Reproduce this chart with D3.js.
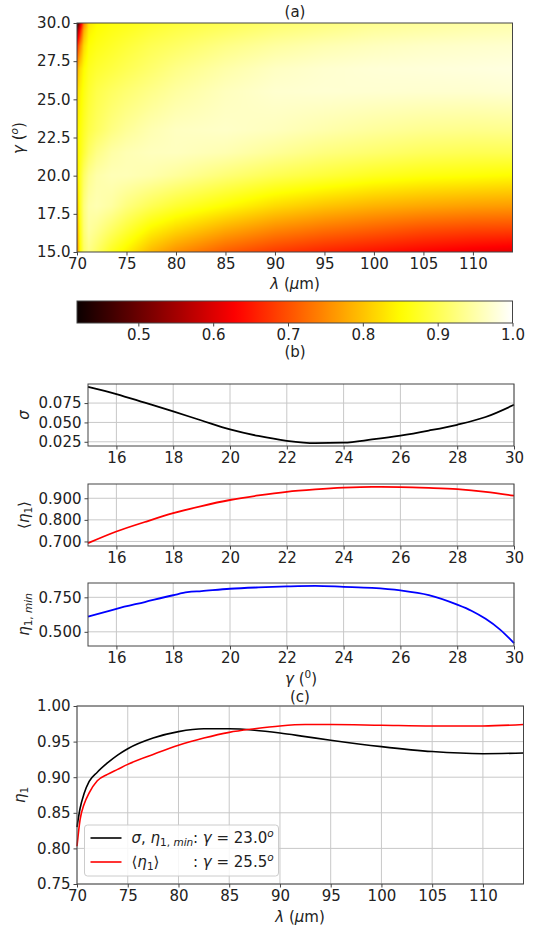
<!DOCTYPE html>
<html>
<head>
<meta charset="utf-8">
<script src="https://cdn.jsdelivr.net/npm/d3@7"></script>
<style>
  body { margin: 0; background: #fff; }
  svg { display: block; font-family: "DejaVu Sans", sans-serif; }
</style>
</head>
<body>
<svg id="chart" width="536" height="927"></svg>
<script>
// ---------------------------------------------------------------------------
// Data

// (a) eta_1 map: columns are lambda (um), rows are gamma (deg)
const lambdaCols = [70, 70.3, 70.7, 71.2, 72, 73.5, 75, 77.5, 80, 85, 90, 95, 100, 105, 110, 114];
const gammaRows = [15, 16.5, 18, 20, 21.5, 23, 25.5, 27, 28.5, 29.5, 30];
const etaMap = [
  [0.74, 0.85, 0.91, 0.93, 0.91, 0.87, 0.84, 0.79, 0.755, 0.71, 0.68, 0.66, 0.645, 0.63, 0.618, 0.61],
  [0.76, 0.86, 0.92, 0.945, 0.935, 0.91, 0.885, 0.845, 0.82, 0.78, 0.75, 0.73, 0.715, 0.70, 0.692, 0.69],
  [0.78, 0.87, 0.925, 0.95, 0.955, 0.945, 0.925, 0.90, 0.88, 0.85, 0.82, 0.80, 0.785, 0.775, 0.768, 0.765],
  [0.812, 0.87, 0.91, 0.935, 0.95, 0.958, 0.958, 0.952, 0.942, 0.92, 0.90, 0.885, 0.87, 0.86, 0.855, 0.85],
  [0.825, 0.86, 0.885, 0.91, 0.93, 0.948, 0.956, 0.962, 0.963, 0.955, 0.94, 0.925, 0.915, 0.905, 0.90, 0.90],
  [0.833, 0.855, 0.875, 0.893, 0.907, 0.927, 0.94, 0.955, 0.964, 0.968, 0.962, 0.952, 0.943, 0.936, 0.933, 0.934],
  [0.81, 0.84, 0.862, 0.88, 0.895, 0.908, 0.918, 0.932, 0.945, 0.962, 0.972, 0.974, 0.973, 0.972, 0.972, 0.974],
  [0.766, 0.82, 0.85, 0.87, 0.88, 0.89, 0.90, 0.915, 0.93, 0.95, 0.965, 0.972, 0.976, 0.978, 0.98, 0.982],
  [0.653, 0.74, 0.82, 0.855, 0.865, 0.875, 0.885, 0.90, 0.91, 0.93, 0.945, 0.955, 0.962, 0.967, 0.97, 0.972],
  [0.518, 0.64, 0.78, 0.84, 0.855, 0.865, 0.872, 0.885, 0.895, 0.91, 0.925, 0.935, 0.945, 0.95, 0.955, 0.958],
  [0.418, 0.56, 0.74, 0.83, 0.85, 0.86, 0.865, 0.875, 0.885, 0.90, 0.915, 0.925, 0.935, 0.942, 0.948, 0.952]
];
const colorbarTicks = [0.5, 0.6, 0.7, 0.8, 0.9, 1.0];

// (b) statistics against gamma
const gammaB = [15, 16, 17, 18, 19, 20, 21, 22, 23, 24, 25, 26, 27, 28, 29, 30];
const sigmaVals = [0.096, 0.0867, 0.0755, 0.0642, 0.0525, 0.041, 0.0325, 0.0263, 0.0232, 0.0238, 0.028, 0.033, 0.0395, 0.047, 0.057, 0.0728];
const etaMean = [0.692, 0.746, 0.79, 0.831, 0.864, 0.892, 0.913, 0.930, 0.941, 0.949, 0.953, 0.952, 0.948, 0.942, 0.930, 0.912];
const gammaMin = [15, 16, 17, 18, 18.5, 19, 20, 21, 22, 23, 24, 25, 26, 27, 28, 28.5, 29, 29.5, 30];
const etaMin = [0.61, 0.667, 0.716, 0.765, 0.787, 0.795, 0.812, 0.822, 0.829, 0.833, 0.826, 0.818, 0.80, 0.766, 0.697, 0.653, 0.594, 0.518, 0.418];

// (c) eta_1 against lambda at the two optimal angles
const lambdaC = [70, 70.3, 70.7, 71.2, 72, 73, 74, 75, 77.5, 80, 82.5, 85, 87.5, 90, 92.5, 95, 100, 105, 110, 114];
const etaG23 = [0.83, 0.856, 0.877, 0.894, 0.907, 0.92, 0.931, 0.94, 0.955, 0.964, 0.968, 0.968, 0.966, 0.962, 0.957, 0.952, 0.943, 0.936, 0.933, 0.934];
const etaG255 = [0.803, 0.84, 0.862, 0.878, 0.895, 0.904, 0.911, 0.918, 0.932, 0.945, 0.955, 0.963, 0.968, 0.972, 0.974, 0.974, 0.973, 0.972, 0.972, 0.974];

// ---------------------------------------------------------------------------
const svg = d3.select('#chart');
const FONT = 15;
const gridColor = '#c8c8c8';
const frameColor = '#444';

// matplotlib 'hot'
const hot = d3.scaleLinear()
  .domain([0, 0.365079, 0.746032, 1])
  .range(['#0b0000', '#ff0000', '#ffff00', '#ffffff'])
  .clamp(true);
const vmin = d3.min(etaMap.flat());
const vmax = 1.0;
const colorOf = v => hot((v - vmin) / (vmax - vmin));

// rich text with italic / sub / sup pieces
function rich(sel, parts, size) {
  let shift = 0;
  parts.forEach(([s, f = '']) => {
    const flags = f.split(' ');
    let target = 0;
    if (flags.includes('sub')) target = 0.22 * size;
    if (flags.includes('sup')) target = -0.42 * size;
    const ts = sel.append('tspan').text(s).attr('dy', target - shift);
    shift = target;
    if (flags.includes('it')) ts.attr('font-style', 'italic');
    if (flags.includes('sub') || flags.includes('sup')) ts.attr('font-size', size * 0.7);
  });
}

function styleAxis(g) {
  g.select('.domain').remove();
  g.selectAll('.tick line').attr('stroke', frameColor);
  g.selectAll('.tick text').attr('font-size', FONT).attr('fill', '#222')
    .attr('font-family', '"DejaVu Sans", sans-serif');
}

function frame(x0, x1, y0, y1) {
  svg.append('rect').attr('x', x0).attr('y', y0).attr('width', x1 - x0).attr('height', y1 - y0)
    .attr('fill', 'none').attr('stroke', frameColor).attr('stroke-width', 1);
}

function ylabel(x, y, parts) {
  const t = svg.append('text').attr('transform', `translate(${x},${y}) rotate(-90)`)
    .attr('text-anchor', 'middle').attr('font-size', FONT).attr('fill', '#222');
  rich(t, parts, FONT);
}

function label(x, y, parts) {
  const t = svg.append('text').attr('x', x).attr('y', y)
    .attr('text-anchor', 'middle').attr('font-size', FONT).attr('fill', '#222');
  rich(t, parts, FONT);
}

// ---------------------------------------------------------------------------
// (a) heat map
const ax = d3.scaleLinear().domain([70, 114]).range([77, 512.5]);
const ay = d3.scaleLinear().domain([15, 30]).range([252, 23]);

function lookup(arr, v) {
  let i = d3.bisectRight(arr, v) - 1;
  i = Math.max(0, Math.min(arr.length - 2, i));
  const f = Math.max(0, Math.min(1, (v - arr[i]) / (arr[i + 1] - arr[i])));
  return [i, f];
}

const W = Math.round(ax.range()[1] - ax.range()[0]);
const H = Math.round(ay.range()[0] - ay.range()[1]);
const canvas = document.createElement('canvas');
canvas.width = W; canvas.height = H;
const ctx = canvas.getContext('2d');
const img = ctx.createImageData(W, H);
for (let py = 0; py < H; py++) {
  const g = ay.invert(ay.range()[1] + py + 0.5);
  const [gi, gf] = lookup(gammaRows, g);
  for (let px = 0; px < W; px++) {
    const l = ax.invert(ax.range()[0] + px + 0.5);
    const [li, lf] = lookup(lambdaCols, l);
    const a = etaMap[gi][li] * (1 - lf) + etaMap[gi][li + 1] * lf;
    const b = etaMap[gi + 1][li] * (1 - lf) + etaMap[gi + 1][li + 1] * lf;
    const c = d3.rgb(colorOf(a * (1 - gf) + b * gf));
    const k = (py * W + px) * 4;
    img.data[k] = c.r; img.data[k + 1] = c.g; img.data[k + 2] = c.b; img.data[k + 3] = 255;
  }
}
ctx.putImageData(img, 0, 0);
svg.append('image')
  .attr('x', ax.range()[0]).attr('y', ay.range()[1])
  .attr('width', W).attr('height', H)
  .attr('preserveAspectRatio', 'none')
  .attr('href', canvas.toDataURL());
frame(77, 512.5, 23, 252);

svg.append('g').attr('transform', 'translate(77,0)')
  .call(d3.axisLeft(ay).tickValues([15, 17.5, 20, 22.5, 25, 27.5, 30]).tickFormat(d3.format('.1f')).tickSize(3.5).tickPadding(3))
  .call(styleAxis);
svg.append('g').attr('transform', 'translate(0,252)')
  .call(d3.axisBottom(ax).tickValues(d3.range(70, 114, 5)).tickSize(3.5).tickPadding(3))
  .call(styleAxis);
label(295, 17, [['(a)']]);
ylabel(24, 138, [['\u03b3', 'it'], [' ('], ['o', 'sup it'], [')']]);
label(295, 289, [['\u03bb', 'it'], [' ('], ['\u03bc', 'it'], ['m)']]);

// colorbar
const cx = d3.scaleLinear().domain([vmin, vmax]).range([77, 512.5]);
const grad = svg.append('defs').append('linearGradient').attr('id', 'cbar')
  .attr('x1', '0%').attr('x2', '100%').attr('y1', '0%').attr('y2', '0%');
d3.range(0, 1.0001, 0.02).forEach(t => {
  grad.append('stop').attr('offset', `${t * 100}%`).attr('stop-color', colorOf(vmin + t * (vmax - vmin)));
});
svg.append('rect').attr('x', 77).attr('y', 301).attr('width', 435.5).attr('height', 22)
  .attr('fill', 'url(#cbar)');
frame(77, 512.5, 301, 323);
svg.append('g').attr('transform', 'translate(0,323)')
  .call(d3.axisBottom(cx).tickValues(colorbarTicks).tickFormat(d3.format('.1f')).tickSize(3.5).tickPadding(3))
  .call(styleAxis);
label(295, 357, [['(b)']]);

// ---------------------------------------------------------------------------
// (b) three stacked panels
const bx = d3.scaleLinear().domain([15, 30]).range([88, 514]);
function padded(vals) {
  const [lo, hi] = d3.extent(vals);
  const p = (hi - lo) * 0.05;
  return [lo - p, hi + p];
}

function statPanel(top, bottom, xs, ys, ticks, color, labelParts) {
  const y = d3.scaleLinear().domain(padded(ys)).range([bottom, top]);
  const g = svg.append('g');
  g.selectAll('line.gx').data(d3.range(16, 31, 2)).join('line')
    .attr('x1', d => bx(d)).attr('x2', d => bx(d)).attr('y1', top).attr('y2', bottom)
    .attr('stroke', gridColor).attr('stroke-width', 1);
  g.selectAll('line.gy').data(ticks).join('line')
    .attr('x1', 88).attr('x2', 514).attr('y1', d => y(d)).attr('y2', d => y(d))
    .attr('stroke', gridColor).attr('stroke-width', 1);
  g.append('path').datum(xs.map((d, i) => [d, ys[i]]))
    .attr('fill', 'none').attr('stroke', color).attr('stroke-width', 1.8)
    .attr('d', d3.line().x(d => bx(d[0])).y(d => y(d[1])).curve(d3.curveMonotoneX));
  frame(88, 514, top, bottom);
  svg.append('g').attr('transform', 'translate(88,0)')
    .call(d3.axisLeft(y).tickValues(ticks).tickFormat(d3.format('.3f')).tickSize(3.5).tickPadding(3))
    .call(styleAxis);
  svg.append('g').attr('transform', `translate(0,${bottom})`)
    .call(d3.axisBottom(bx).tickValues(d3.range(16, 31, 2)).tickSize(3.5).tickPadding(3))
    .call(styleAxis);
  ylabel(29, (top + bottom) / 2, labelParts);
}

statPanel(384, 446, gammaB, sigmaVals, [0.025, 0.05, 0.075], '#000000', [['\u03c3', 'it']]);
statPanel(484, 546, gammaB, etaMean, [0.7, 0.8, 0.9], '#ff0000',
  [['\u27e8'], ['\u03b7', 'it'], ['1', 'sub'], ['\u27e9']]);
statPanel(583, 646, gammaMin, etaMin, [0.5, 0.75], '#0000ff',
  [['\u03b7', 'it'], ['1, ', 'sub'], ['min', 'sub it']]);
label(301, 684, [['\u03b3', 'it'], [' ('], ['0', 'sup'], [')']]);

// ---------------------------------------------------------------------------
// (c) eta_1 against lambda
const xc = d3.scaleLinear().domain([70, 114]).range([77, 523.5]);
const yc = d3.scaleLinear().domain([0.75, 1.0]).range([884, 706]);
const cTicksX = d3.range(70, 114, 5);
const cTicksY = d3.range(0.75, 1.0001, 0.05);
const gc = svg.append('g');
gc.selectAll('line.gx').data(cTicksX).join('line')
  .attr('x1', d => xc(d)).attr('x2', d => xc(d)).attr('y1', 706).attr('y2', 884)
  .attr('stroke', gridColor).attr('stroke-width', 1);
gc.selectAll('line.gy').data(cTicksY).join('line')
  .attr('x1', 77).attr('x2', 523.5).attr('y1', d => yc(d)).attr('y2', d => yc(d))
  .attr('stroke', gridColor).attr('stroke-width', 1);
const lineC = d3.line().x(d => xc(d[0])).y(d => yc(d[1])).curve(d3.curveMonotoneX);
gc.append('path').datum(lambdaC.map((d, i) => [d, etaG23[i]]))
  .attr('fill', 'none').attr('stroke', '#000').attr('stroke-width', 1.6).attr('d', lineC);
gc.append('path').datum(lambdaC.map((d, i) => [d, etaG255[i]]))
  .attr('fill', 'none').attr('stroke', '#ff0000').attr('stroke-width', 1.6).attr('d', lineC);
frame(77, 523.5, 706, 884);
svg.append('g').attr('transform', 'translate(77,0)')
  .call(d3.axisLeft(yc).tickValues(cTicksY).tickFormat(d3.format('.2f')).tickSize(3.5).tickPadding(3))
  .call(styleAxis);
svg.append('g').attr('transform', 'translate(0,884)')
  .call(d3.axisBottom(xc).tickValues(cTicksX).tickSize(3.5).tickPadding(3))
  .call(styleAxis);
label(300, 702, [['(c)']]);
ylabel(25, 795, [['\u03b7', 'it'], ['1', 'sub']]);
label(300, 922, [['\u03bb', 'it'], [' ('], ['\u03bc', 'it'], ['m)']]);

// legend
svg.append('rect').attr('x', 84.5).attr('y', 825).attr('width', 194).attr('height', 51)
  .attr('rx', 3).attr('fill', '#fff').attr('fill-opacity', 0.85)
  .attr('stroke', '#cccccc');
const legendRows = [
  { color: '#000', y: 838, name: [['\u03c3', 'it'], [', '], ['\u03b7', 'it'], ['1, ', 'sub'], ['min', 'sub it']], gamma: '23.0' },
  { color: '#ff0000', y: 862, name: [['\u27e8'], ['\u03b7', 'it'], ['1', 'sub'], ['\u27e9']], gamma: '25.5' }
];
legendRows.forEach(r => {
  svg.append('line').attr('x1', 90.5).attr('x2', 121.5).attr('y1', r.y).attr('y2', r.y)
    .attr('stroke', r.color).attr('stroke-width', 1.6);
  const t1 = svg.append('text').attr('x', 131.5).attr('y', r.y + 5)
    .attr('font-size', FONT).attr('fill', '#222');
  rich(t1, r.name, FONT);
  const t2 = svg.append('text').attr('x', 193).attr('y', r.y + 5)
    .attr('font-size', FONT).attr('fill', '#222');
  rich(t2, [[': '], ['\u03b3', 'it'], [' = ' + r.gamma], ['o', 'sup it']], FONT);
});
</script>
</body>
</html>
